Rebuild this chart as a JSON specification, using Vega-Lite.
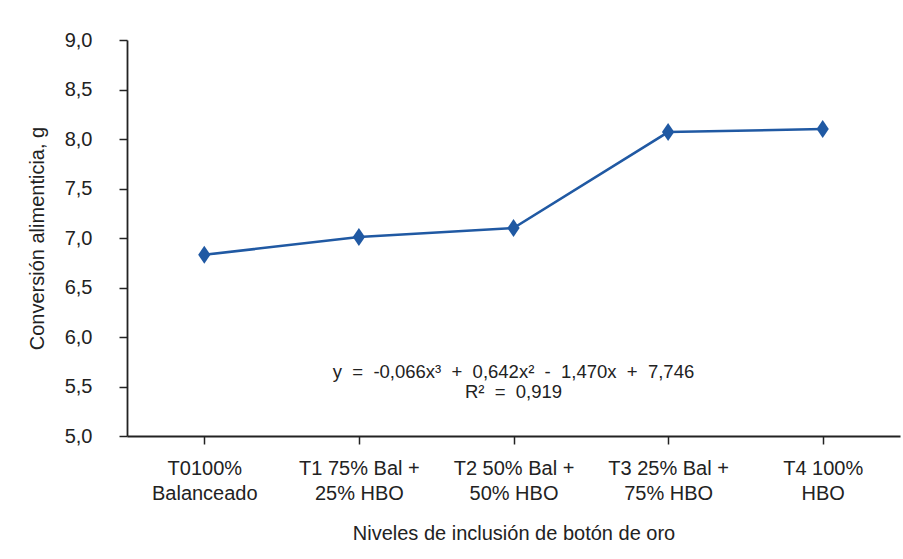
{
  "$schema": "https://vega.github.io/schema/vega-lite/v6.json",
  "autosize": "none",
  "width": 773,
  "height": 396,
  "padding": {"left": 127, "top": 40, "right": 3, "bottom": 123},
  "background": "white",
  "config": {
    "view": {"stroke": null},
    "font": "Liberation Sans",
    "axis": {"grid": false, "domainColor": "#222", "tickColor": "#222", "labelColor": "#222", "titleColor": "#222", "labelFont": "Liberation Sans", "titleFont": "Liberation Sans", "titleFontWeight": "normal"}
  },
  "data": {
    "values": [
      {"trat": "T0100%|Balanceado", "conv": 6.83},
      {"trat": "T1 75% Bal +|25% HBO", "conv": 7.01},
      {"trat": "T2 50% Bal +|50% HBO", "conv": 7.10},
      {"trat": "T3 25% Bal +|75% HBO", "conv": 8.07},
      {"trat": "T4 100%|HBO", "conv": 8.10}
    ]
  },
  "encoding": {
    "x": {
      "field": "trat", "type": "ordinal", "sort": null,
      "scale": {"type": "point", "padding": 0.5},
      "axis": {
        "title": "Niveles de inclusión de botón de oro",
        "labelAngle": 0, "labelFontSize": 20, "titleFontSize": 20,
        "labelExpr": "split(datum.label, '|')", "labelLineHeight": 25,
        "tickSize": 8, "domainWidth": 1.8, "tickWidth": 1.5,
        "labelPadding": 14, "titlePadding": 20
      }
    },
    "y": {
      "field": "conv", "type": "quantitative",
      "scale": {"domain": [5, 9], "zero": false, "nice": false},
      "axis": {
        "title": "Conversión alimenticia, g",
        "values": [5, 5.5, 6, 6.5, 7, 7.5, 8, 8.5, 9],
        "labelExpr": "replace(format(datum.value, '.1f'), '.', ',')",
        "labelFontSize": 20, "titleFontSize": 20,
        "tickSize": 8, "domainWidth": 1.8, "tickWidth": 1.5,
        "labelPadding": 27, "titlePadding": 17
      }
    }
  },
  "layer": [
    {"mark": {"type": "line", "color": "#2059a3", "strokeWidth": 2.5}},
    {"mark": {"type": "point", "filled": true, "opacity": 1, "color": "#2059a3", "shape": "M0,-1L0.68,0L0,1L-0.68,0Z", "size": 324}},
    {
      "data": {"values": [
        {"trat": "T2 50% Bal +|50% HBO", "y": 5.65, "t": "y\u00a0\u00a0=\u00a0\u00a0-0,066x³\u00a0\u00a0+\u00a0\u00a00,642x²\u00a0\u00a0-\u00a0\u00a01,470x\u00a0\u00a0+\u00a0\u00a07,746"},
        {"trat": "T2 50% Bal +|50% HBO", "y": 5.44, "t": "R²\u00a0\u00a0=\u00a0\u00a00,919"}
      ]},
      "mark": {"type": "text", "fontSize": 18.5, "color": "#222", "align": "center", "baseline": "middle"},
      "encoding": {"x": {"field": "trat", "type": "ordinal"}, "y": {"field": "y", "type": "quantitative"}, "text": {"field": "t"}}
    }
  ]
}
